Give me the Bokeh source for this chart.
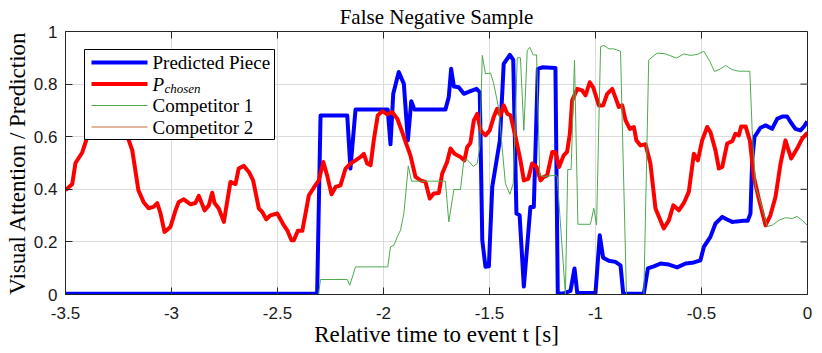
from bokeh.plotting import figure
from bokeh.models import Range1d, FixedTicker
from bokeh.core.properties import value
from bokeh.embed import file_html
from bokeh.resources import INLINE

# ---------------- data ----------------
x_ticks = [-3.5, -3, -2.5, -2, -1.5, -1, -0.5, 0]
x_tick_labels = ["-3.5", "-3", "-2.5", "-2", "-1.5", "-1", "-0.5", "0"]
y_ticks = [0, 0.2, 0.4, 0.6, 0.8, 1]
y_tick_labels = ["0", "0.2", "0.4", "0.6", "0.8", "1"]

series_names = ["Predicted Piece", "P", "Competitor 1", "Competitor 2"]

# Predicted Piece
t_pred = [-3.5, -2.313, -2.297, -2.171, -2.156, -2.132, -1.980, -1.967, -1.954, -1.928,
          -1.904, -1.885, -1.869, -1.854, -1.708, -1.692, -1.681, -1.668, -1.645, -1.621,
          -1.590, -1.561, -1.546, -1.534, -1.519, -1.503, -1.487, -1.464, -1.451, -1.433,
          -1.404, -1.388, -1.373, -1.358, -1.338, -1.307, -1.291, -1.272, -1.251, -1.189,
          -1.178, -1.150, -1.118, -1.099, -1.086, -1.000, -0.980, -0.964, -0.937, -0.906,
          -0.882, -0.869, -0.772, -0.753, -0.725, -0.693, -0.654, -0.615, -0.575, -0.536,
          -0.505, -0.489, -0.458, -0.434, -0.402, -0.379, -0.355, -0.332, -0.303, -0.282,
          -0.269, -0.261, -0.250, -0.222, -0.198, -0.167, -0.143, -0.119, -0.096, -0.080,
          -0.057, -0.033, -0.018, -0.001]
v_pred = [0.003, 0.003, 0.681, 0.681, 0.479, 0.703, 0.703, 0.571, 0.763, 0.846,
          0.801, 0.586, 0.735, 0.703, 0.703, 0.751, 0.858, 0.791, 0.788, 0.763,
          0.773, 0.782, 0.769, 0.206, 0.105, 0.107, 0.409, 0.523, 0.586, 0.877,
          0.911, 0.892, 0.308, 0.301, 0.030, 0.333, 0.333, 0.858, 0.864, 0.861,
          0.004, 0.004, 0.014, 0.099, 0.006, 0.006, 0.225, 0.140, 0.128, 0.124,
          0.111, 0.003, 0.003, 0.099, 0.107, 0.118, 0.114, 0.103, 0.118, 0.122,
          0.130, 0.181, 0.219, 0.270, 0.295, 0.285, 0.276, 0.278, 0.280, 0.280,
          0.308, 0.510, 0.599, 0.634, 0.643, 0.630, 0.668, 0.677, 0.677, 0.656,
          0.630, 0.624, 0.637, 0.658]

# P_chosen
t_chosen = [-3.500, -3.468, -3.453, -3.421, -3.401, -3.373, -3.344, -3.316, -3.288, -3.259,
            -3.231, -3.203, -3.185, -3.156, -3.132, -3.108, -3.085, -3.067, -3.052, -3.033,
            -3.005, -2.981, -2.966, -2.942, -2.910, -2.887, -2.871, -2.844, -2.824, -2.808,
            -2.797, -2.777, -2.753, -2.722, -2.698, -2.683, -2.659, -2.635, -2.615, -2.588,
            -2.572, -2.553, -2.533, -2.501, -2.473, -2.454, -2.434, -2.423, -2.404, -2.383,
            -2.352, -2.329, -2.305, -2.284, -2.266, -2.245, -2.226, -2.203, -2.179, -2.156,
            -2.132, -2.108, -2.093, -2.077, -2.061, -2.046, -2.027, -2.006, -1.983, -1.959,
            -1.935, -1.912, -1.896, -1.873, -1.849, -1.825, -1.802, -1.782, -1.763, -1.739,
            -1.723, -1.700, -1.684, -1.665, -1.637, -1.618, -1.605, -1.590, -1.574, -1.558,
            -1.542, -1.519, -1.499, -1.480, -1.464, -1.448, -1.433, -1.416, -1.401, -1.377,
            -1.354, -1.338, -1.317, -1.299, -1.278, -1.259, -1.244, -1.228, -1.204, -1.189,
            -1.172, -1.150, -1.134, -1.121, -1.110, -1.086, -1.063, -1.047, -1.027, -1.011,
            -0.984, -0.964, -0.945, -0.921, -0.901, -0.890, -0.874, -0.858, -0.838, -0.819,
            -0.807, -0.788, -0.764, -0.741, -0.717, -0.678, -0.654, -0.633, -0.607, -0.583,
            -0.560, -0.536, -0.517, -0.497, -0.473, -0.458, -0.434, -0.418, -0.402, -0.379,
            -0.355, -0.340, -0.324, -0.313, -0.292, -0.272, -0.253, -0.230, -0.198, -0.175,
            -0.151, -0.127, -0.104, -0.077, -0.049, -0.025, -0.005, 0.0]
v_chosen = [0.396, 0.420, 0.500, 0.540, 0.590, 0.630, 0.660, 0.680, 0.670, 0.650,
            0.620, 0.590, 0.548, 0.396, 0.352, 0.328, 0.333, 0.347, 0.309, 0.238,
            0.257, 0.320, 0.352, 0.362, 0.343, 0.348, 0.375, 0.320, 0.339, 0.387,
            0.348, 0.327, 0.276, 0.428, 0.420, 0.479, 0.489, 0.466, 0.434, 0.327,
            0.314, 0.286, 0.301, 0.308, 0.267, 0.244, 0.206, 0.206, 0.242, 0.242,
            0.377, 0.406, 0.434, 0.504, 0.453, 0.381, 0.409, 0.415, 0.479, 0.498,
            0.510, 0.523, 0.535, 0.498, 0.491, 0.586, 0.681, 0.697, 0.685, 0.694,
            0.668, 0.618, 0.580, 0.529, 0.447, 0.434, 0.428, 0.365, 0.384, 0.386,
            0.460, 0.504, 0.555, 0.535, 0.523, 0.510, 0.561, 0.576, 0.662, 0.687,
            0.624, 0.605, 0.624, 0.675, 0.706, 0.681, 0.719, 0.687, 0.681, 0.599,
            0.510, 0.434, 0.440, 0.498, 0.485, 0.434, 0.447, 0.453, 0.542, 0.542,
            0.485, 0.529, 0.542, 0.611, 0.738, 0.782, 0.776, 0.757, 0.807, 0.788,
            0.719, 0.719, 0.763, 0.782, 0.738, 0.713, 0.719, 0.662, 0.630, 0.637,
            0.586, 0.567, 0.571, 0.498, 0.327, 0.251, 0.282, 0.339, 0.320, 0.348,
            0.390, 0.535, 0.510, 0.586, 0.637, 0.618, 0.548, 0.479, 0.485, 0.574,
            0.583, 0.611, 0.605, 0.639, 0.639, 0.586, 0.447, 0.365, 0.263, 0.301,
            0.371, 0.498, 0.586, 0.517, 0.555, 0.593, 0.611, 0.612]

# Competitor 1
t_comp1 = [-3.5, -2.307, -2.297, -2.171, -2.159, -2.132, -1.980, -1.967, -1.951, -1.935,
           -1.920, -1.904, -1.892, -1.883, -1.868, -1.708, -1.692, -1.668, -1.637, -1.621,
           -1.605, -1.577, -1.558, -1.546, -1.534, -1.519, -1.495, -1.480, -1.456, -1.440,
           -1.425, -1.404, -1.388, -1.369, -1.354, -1.338, -1.322, -1.310, -1.294, -1.278,
           -1.263, -1.247, -1.189, -1.181, -1.142, -1.131, -1.115, -1.099, -1.083, -1.024,
           -1.008, -0.995, -0.976, -0.960, -0.937, -0.914, -0.882, -0.854, -0.772, -0.749,
           -0.709, -0.670, -0.618, -0.583, -0.552, -0.520, -0.489, -0.461, -0.439, -0.410,
           -0.387, -0.355, -0.324, -0.272, -0.261, -0.245, -0.222, -0.190, -0.167, -0.135,
           -0.104, -0.072, -0.049, -0.025, -0.001]
v_comp1 = [0.0, 0.0, 0.057, 0.057, 0.035, 0.105, 0.105, 0.181, 0.187, 0.219,
           0.244, 0.308, 0.409, 0.489, 0.431, 0.431, 0.276, 0.399, 0.399, 0.510,
           0.513, 0.487, 0.498, 0.561, 0.909, 0.839, 0.842, 0.801, 0.706, 0.555,
           0.422, 0.381, 0.422, 0.900, 0.900, 0.624, 0.928, 0.940, 0.911, 0.911,
           0.453, 0.449, 0.453, 0.450, 0.0, 0.475, 0.475, 0.890, 0.267, 0.267,
           0.328, 0.264, 0.942, 0.947, 0.934, 0.934, 0.925, 0.0, 0.0, 0.892,
           0.918, 0.915, 0.899, 0.915, 0.909, 0.913, 0.925, 0.887, 0.848, 0.858,
           0.871, 0.855, 0.849, 0.849, 0.624, 0.409, 0.352, 0.259, 0.263, 0.282,
           0.292, 0.289, 0.297, 0.282, 0.263]

# Competitor 2
t_comp2 = [-3.5, -2.5, -1.5, -0.5, 0.0]
v_comp2 = [0.0, 0.0, 0.0, 0.0, 0.0]

# ---------------- figure ----------------
AX = "#262626"
X0, X1, Y0, Y1 = -3.5, 0.0, 0.0, 1.0
FW, FH = 742, 263
TICK = 7
SERIF = "Liberation Serif"

p = figure(frame_width=FW, frame_height=FH, output_backend="svg", toolbar_location=None,
           x_range=Range1d(X0, X1), y_range=Range1d(Y0, Y1),
           min_border_left=65, min_border_right=15, min_border_top=31, min_border_bottom=59,
           title="False Negative Sample")

p.title.align = "center"
p.title.text_font = SERIF
p.title.text_font_size = "21px"
p.title.text_font_style = "normal"
p.title.text_color = "#000000"
p.title.standoff = 5

p.outline_line_color = AX
p.outline_line_width = 1
p.background_fill_color = "white"
p.border_fill_color = "white"

p.xgrid.ticker = FixedTicker(ticks=x_ticks)
p.ygrid.ticker = FixedTicker(ticks=y_ticks)
p.grid.grid_line_color = "#DCDCDC"
p.grid.grid_line_width = 1


def style_axis(ax, ticks, labels):
    ax.ticker = FixedTicker(ticks=ticks)
    ax.major_label_overrides = {tk: lb for tk, lb in zip(ticks, labels)}
    ax.major_tick_in = TICK
    ax.major_tick_out = 0
    ax.minor_tick_line_color = None
    ax.axis_line_color = AX
    ax.major_tick_line_color = AX
    ax.major_label_text_font = "Liberation Sans"
    ax.major_label_text_font_size = "17px"
    ax.major_label_text_color = "#1a1a1a"


xa = p.xaxis[0]
ya = p.yaxis[0]
style_axis(xa, x_ticks, x_tick_labels)
style_axis(ya, y_ticks, y_tick_labels)
xa.major_label_standoff = 12
ya.major_label_standoff = 8

xa.axis_label = "Relative time to event t [s]"
ya.axis_label = "Visual Attention / Prediction"
for ax in (xa, ya):
    ax.axis_label_text_font = SERIF
    ax.axis_label_text_font_size = "23px"
    ax.axis_label_text_font_style = "normal"
    ax.axis_label_text_color = "#000000"
xa.axis_label_standoff = 0
ya.axis_label_standoff = 1

# inward ticks on the top and right edges of the box
dy = (Y1 - Y0) * TICK / FH
dx = (X1 - X0) * TICK / FW
p.segment(x0=x_ticks, y0=[Y1] * len(x_ticks), x1=x_ticks, y1=[Y1 - dy] * len(x_ticks),
          line_color=AX, line_width=1)
p.segment(x0=[X1] * len(y_ticks), y0=y_ticks, x1=[X1 - dx] * len(y_ticks), y1=y_ticks,
          line_color=AX, line_width=1)

# ---------------- series ----------------
styles = [("#0000FF", 4), ("#FF0000", 4), ("#4DAA4D", 1), ("#C2703D", 1)]
series = [(t_pred, v_pred), (t_chosen, v_chosen), (t_comp1, v_comp1), (t_comp2, v_comp2)]
for (tt, vv), (col, lw) in zip(series, styles):
    p.line(tt, vv, line_color=col, line_width=lw, line_join="round")

# ---------------- legend (box drawn above the lines) ----------------
def sx2t(sx):
    return X0 + (X1 - X0) * sx / FW


def sy2v(sy):
    return Y0 + (Y1 - Y0) * sy / FH


# legend geometry in frame pixels (left/right from frame left, bottom/top from frame bottom)
LEG_L, LEG_R, LEG_B, LEG_T = 19, 209, 155, 245
ROWS = [232, 210.5, 189, 167.5]
SAMPLE_L, SAMPLE_R, TEXT_X = 26, 82, 87

p.quad(left=[sx2t(LEG_L)], right=[sx2t(LEG_R)], bottom=[sy2v(LEG_B)], top=[sy2v(LEG_T)],
       fill_color="white", line_color="#000000", line_width=1)
for row, name, (col, lw) in zip(ROWS, series_names, styles):
    p.line([sx2t(SAMPLE_L), sx2t(SAMPLE_R)], [sy2v(row), sy2v(row)],
           line_color=col, line_width=lw)
    p.text(x=[sx2t(TEXT_X)], y=[sy2v(row)], text=[name],
           text_font=value(SERIF), text_font_size="19px",
           text_font_style="italic" if name == "P" else "normal",
           text_baseline="middle", text_align="left", text_color="#000000")
# subscript of P_chosen
p.text(x=[sx2t(TEXT_X + 12)], y=[sy2v(ROWS[1] - 4)], text=["chosen"],
       text_font=value(SERIF), text_font_size="13px", text_font_style="italic",
       text_baseline="middle", text_align="left", text_color="#000000")

open("out.html", "w").write(file_html(p, INLINE))
